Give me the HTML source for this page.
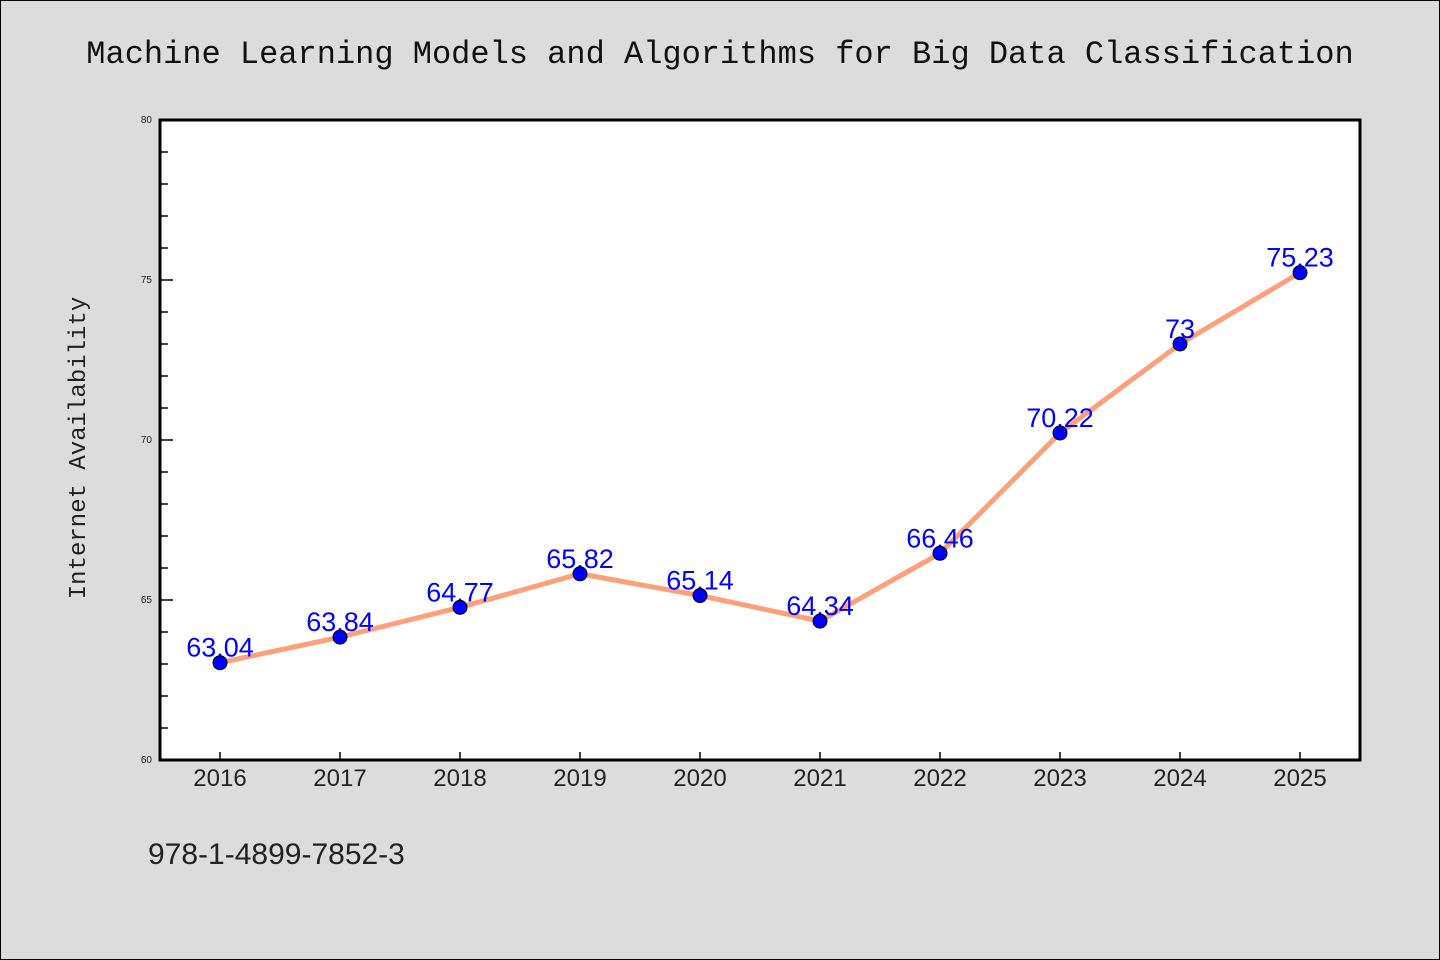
<!DOCTYPE html>
<html><head><meta charset="utf-8"><style>
body{margin:0;background:#dcdcdc;}
svg{display:block;font-family:"Liberation Sans","WenQuanYi Zen Hei",sans-serif;}
</style></head><body>
<svg id="c" width="1440" height="960" viewBox="0 0 1440 960">
<rect x="0.5" y="0.5" width="1439" height="959" fill="#dcdcdc" stroke="#000"/>
<text x="720" y="63" text-anchor="middle" font-family="'Liberation Mono','DejaVu Sans Mono',monospace" font-size="32" fill="#111">Machine Learning Models and Algorithms for Big Data Classification</text>
<text transform="translate(85,448) rotate(-90)" text-anchor="middle" font-family="'Liberation Mono','DejaVu Sans Mono',monospace" font-size="24" fill="#222">Internet Availability</text>
<text x="148" y="864" font-size="30" fill="#222">978-1-4899-7852-3</text>
<rect x="160" y="120" width="1200" height="640" fill="#fff"/>
<g id="ax"></g>
<g id="marks"></g>
<rect x="160" y="120" width="1200" height="640" fill="none" stroke="#000" stroke-width="3"/>
</svg>
<script>
const years=["2016","2017","2018","2019","2020","2021","2022","2023","2024","2025"];
const values=[63.04,63.84,64.77,65.82,65.14,64.34,66.46,70.22,73,75.23];
const valueLabels=["63.04","63.84","64.77","65.82","65.14","64.34","66.46","70.22","73","75.23"];
const yTicks=[60,65,70,75,80];
const NS="http://www.w3.org/2000/svg";
const X0=160,X1=1360,Y0=760,Y1=120,ymin=60,ymax=80;
const xs=i=>X0+(X1-X0)*(i+0.5)/years.length;
const ys=v=>Y0-(v-ymin)/(ymax-ymin)*(Y0-Y1);
function mk(t,a,p){const e=document.createElementNS(NS,t);for(const k in a)e.setAttribute(k,a[k]);p.appendChild(e);return e;}
const ax=document.getElementById('ax'),mg=document.getElementById('marks');
for(let v=ymin;v<=ymax;v++){
 const major=yTicks.includes(v);
 const t=mk('line',{x1:X0,x2:X0+(major?13:8),y1:ys(v),y2:ys(v),stroke:'#000','stroke-width':1.5},ax);
 
 
}
yTicks.forEach(v=>{
 const t=mk('text',{x:X0-8,y:ys(v)+3,'text-anchor':'end','font-size':10,fill:'#222'},ax);
 t.textContent=v;
 
 
});
years.forEach((y,i)=>{
 const l=mk('line',{x1:xs(i),x2:xs(i),y1:Y0,y2:Y0-8,stroke:'#000','stroke-width':1.5},ax);
 
 
 const t=mk('text',{x:xs(i),y:Y0+26,'text-anchor':'middle','font-size':24,fill:'#222'},ax);
 t.textContent=y;
 
 
});
const pl=mk('polyline',{points:values.map((v,i)=>xs(i)+','+ys(v)).join(' '),fill:'none',stroke:'#ffa07a','stroke-width':5,'stroke-linejoin':'round'},mg);


values.forEach((v,i)=>{
 const t=mk('text',{x:xs(i),y:ys(v)-6,'text-anchor':'middle','font-size':27,fill:'#0000ff'},mg);
 t.textContent=valueLabels[i];
 
 
});
values.forEach((v,i)=>{
 const c=mk('circle',{cx:xs(i),cy:ys(v),r:7,fill:'#0000ff',stroke:'#000','stroke-width':1},mg);
 
 
});
</script>
</body></html>
